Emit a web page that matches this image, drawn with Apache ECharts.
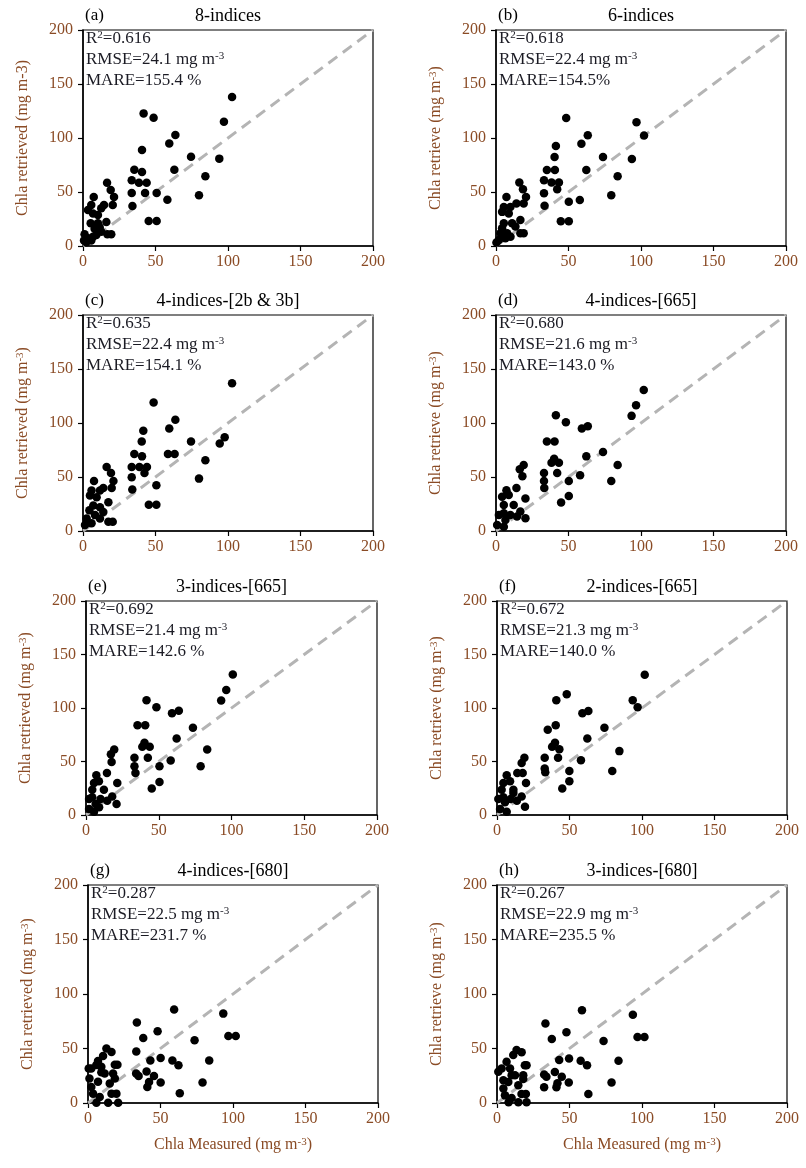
<!DOCTYPE html>
<html>
<head>
<meta charset="utf-8">
<script src="https://cdn.jsdelivr.net/npm/echarts@6/dist/echarts.min.js"></script>
<style>
    html, body { margin: 0; padding: 0; background: #fff; }
    #chart { width: 806px; height: 1168px; }
</style>
</head>
<body>
<div id="chart"></div>
<script>
// Measured vs retrieved Chla, one list of [measured, retrieved] per panel
const ptsA = [[102.8,138],[41.8,122.8],[48.7,118.8],[97.2,115],[63.7,102.8],[59.5,94.8],[40.7,88.9],[74.5,82.7],[94,80.9],[35.4,70.7],[63,70.7],[40.7,68.5],[84.4,64.5],[33.6,60.8],[38.6,58.6],[43.9,58.6],[16.6,58.6],[33.6,49],[42.8,49],[50.8,49],[19.1,51.8],[21.4,45.4],[80,46.9],[58.2,42.9],[7.4,45.4],[34.1,37],[20.5,38],[14.5,38],[45.3,23.1],[50.8,23.1],[5.7,38],[3.4,33.3],[6.9,30.2],[10.3,28.7],[12.6,34.9],[5.3,21],[10.3,21],[16.1,22.2],[8,16],[11.5,17.3],[19.5,10.8],[16.8,10.8],[1.1,10.8],[3.4,7.1],[6.9,8.6],[9.2,10.2],[2.3,3.4],[0.7,5],[5.7,5],[12.6,13.3]];
const ptsB = [[48.4,118.6],[96.9,114.6],[102.1,102.3],[63.3,102.6],[58.9,94.6],[41.3,92.5],[40.4,82.3],[73.8,82.3],[93.7,80.5],[35.1,70.3],[40.6,70.3],[62.3,70.3],[83.9,64.5],[33.1,60.8],[38.3,58.7],[43.4,58.7],[42.2,52.5],[33.1,48.8],[50.2,40.9],[57.8,42.7],[79.5,47],[33.5,37.2],[44.7,23],[50.2,23],[16.1,58.7],[18.6,52.5],[20.7,45.4],[7.2,45.4],[14.1,39.3],[19.1,39.3],[5.4,36.2],[4.2,31.6],[8.8,30],[9.9,36.2],[16.8,24],[5.4,21],[11.1,21],[4.2,16.4],[13.4,18],[19.1,11.7],[16.8,11.7],[3.1,11.7],[7.7,11.7],[2,5.6],[6.5,7.1],[0.3,3.2],[10,8.5]];
const ptsC = [[102.8,136.7],[48.7,118.9],[63.7,102.9],[59.5,94.9],[41.6,92.8],[40.5,82.9],[74.5,82.9],[97.7,86.9],[94.3,81.1],[35.4,71.3],[40.7,69.1],[58.6,71.3],[63.2,71.3],[84.4,65.4],[33.6,59.3],[38.9,59.3],[44.1,59.3],[42.4,53.7],[33.6,49.8],[50.6,42.4],[80,48.5],[34,38.4],[45.4,24.3],[50.6,24.3],[16.3,59.3],[19.3,53.7],[21,46.4],[7.6,46.4],[14,39.9],[19.8,39.9],[5.9,37.4],[4.8,32.8],[9.4,31.2],[11.7,37.4],[17.5,26.7],[7.1,23.6],[11.7,22.1],[4.4,19.1],[14,17.6],[17.5,8.6],[20.5,8.6],[2.5,11.6],[8.3,14.7],[1.4,5.5],[5.9,7.1],[11.7,11.6]];
const ptsD = [[101.9,130.6],[96.6,116.4],[93.5,106.6],[41.3,107.2],[48.2,100.7],[63.3,97],[59.2,94.9],[35.1,82.9],[40.4,82.9],[73.8,73.1],[62.3,69.1],[83.9,61.1],[40.1,67],[38.3,63.3],[43.4,63.3],[33.1,53.7],[42.2,53.7],[58,51.6],[33.1,46.4],[33.3,39.9],[50.2,46.4],[79.5,46.4],[50.2,32.3],[44.9,26.4],[19.1,61.1],[16.4,57.1],[18.2,50.7],[14.1,39.9],[7.2,37.8],[20.3,30.1],[4.2,31.8],[8.8,33.3],[5.4,24.1],[12.2,24.1],[16.8,18],[5.4,16.5],[9.9,14.9],[20.3,11.8],[2,14.9],[6.5,10.2],[0.8,5.5],[5.4,4],[14.5,13.4]];
const ptsE = [[100.9,131.2],[96.4,116.9],[92.9,106.9],[41.6,107.2],[48.4,100.6],[63.8,97.5],[59.1,95],[35.4,83.8],[40.7,83.8],[73.5,81.5],[62.3,71.6],[83.3,61.3],[40.2,67.5],[38.7,63.7],[43.8,63.7],[33.3,53.4],[42.5,53.4],[58.2,50.9],[33.3,45.6],[34,39.3],[50.5,45.6],[78.8,45.6],[50.5,30.9],[45.2,24.7],[19.4,61.3],[17.1,56.8],[17.6,49.6],[14.4,39.3],[7.1,37.1],[21.5,29.9],[5.5,30],[8.9,31.6],[4.3,23.6],[12.3,23.6],[18,17.3],[4.3,16.5],[10,14.9],[21,10.2],[2.1,14.9],[6.6,10.2],[2.1,5.5],[5.5,3],[14.6,13.4],[9,7.2]];
const ptsF = [[101.9,131.1],[93.6,107.2],[97,100.6],[48.1,112.8],[40.9,107.2],[63,97.2],[58.9,95],[40.5,83.8],[35,79.6],[74.1,81.5],[62.3,71.6],[84.4,59.7],[40,67.5],[38,63.7],[43,61.5],[32.9,53.4],[42.1,53.4],[57.9,51.1],[32.9,43.4],[33.3,40],[49.9,41.2],[79.5,41.2],[49.9,31.5],[45,24.7],[18.9,53.4],[17,48.7],[17.7,39.3],[14,39.3],[6.7,37.1],[20,29.9],[4.4,30],[9,31.6],[3.2,23.6],[11.3,23.6],[17,17.3],[4.4,16.5],[9.4,14.9],[19.3,7.8],[0.9,14.9],[5.5,11.9],[2.1,5.5],[6.7,3],[13.7,13.4],[11.3,20.5]];
const ptsG = [[59.4,85.7],[93.3,82],[33.7,73.8],[48,65.8],[38.1,59.6],[96.8,61.5],[101.9,61.5],[73.5,57.5],[33.3,47.2],[43,38.9],[50.1,41.3],[58.2,39.1],[62.4,34.6],[83.6,39.1],[33.2,27],[34.9,24.8],[40.4,28.8],[45.5,24.8],[42.1,19.3],[40.9,14.7],[50.1,18.7],[79,18.7],[63.3,8.9],[12.7,49.9],[16.2,46.8],[10.4,43.1],[6.9,38.5],[2.3,31.6],[0.5,31.6],[18.5,35.2],[20.3,35.2],[17.3,27],[11.5,27],[9.2,33.2],[5.8,34.8],[9.2,28.3],[1,22.4],[6.9,19.4],[18.5,22.4],[15,18],[2.3,14.7],[16.2,8.6],[19.6,8.6],[3.5,8.6],[8.1,5.5],[13.9,0.3],[20.8,0.3],[5.8,0.3]];
const ptsH = [[58.6,85],[93.7,81],[33.4,73],[47.9,65],[37.8,58.8],[96.9,60.6],[101.7,60.6],[73.5,56.9],[32.5,26.1],[34.1,24],[39.9,28.5],[44.7,24],[42.9,39.4],[49.7,40.9],[57.7,38.7],[62.1,34.7],[83.8,38.7],[41.7,18.1],[41,14.4],[49.5,18.7],[79,18.7],[63,8.2],[32.5,14.4],[13.5,48.6],[17,46.5],[11.2,44],[6.6,37.8],[3.2,31.7],[0.9,28.6],[19.2,34.7],[20.4,34.7],[18.1,25.5],[12.4,25.5],[9,31.7],[10.1,25.5],[4.4,20.8],[7.8,19.3],[18.1,22.1],[14.7,16.3],[4.4,13.2],[16.9,8.2],[19.9,8.2],[5.5,7],[10.1,4.5],[14.7,0.7],[20.4,0.7],[8,0.7]];

const panelTags = ['(a)', '(b)', '(c)', '(d)', '(e)', '(f)', '(g)', '(h)'];
const panelTitles = ['8-indices', '6-indices', '4-indices-[2b & 3b]', '4-indices-[665]',
    '3-indices-[665]', '2-indices-[665]', '4-indices-[680]', '3-indices-[680]'];
const statR2 = ['0.616', '0.618', '0.635', '0.680', '0.692', '0.672', '0.287', '0.267'];
const statRMSE = ['24.1', '22.4', '22.4', '21.6', '21.4', '21.3', '22.5', '22.9'];
const statMARE = ['155.4 %', '154.5%', '154.1 %', '143.0 %', '142.6 %', '140.0 %', '231.7 %', '235.5 %'];
const yNames = ['Chla retrieved (mg m-3)', 'Chla retrieve (mg m{sup|-3})', 'Chla retrieved (mg m{sup|-3})',
    'Chla retrieve (mg m{sup|-3})', 'Chla retrieved (mg m{sup|-3})', 'Chla retrieve (mg m{sup|-3})',
    'Chla retrieved (mg m{sup|-3})', 'Chla retrieve (mg m{sup|-3})'];
const xName = 'Chla Measured (mg m{sup|-3})';
const axisMin = 0, axisMax = 200, axisStep = 50;
const diagonal = [[0, 0], [200, 200]];

const allPoints = [ptsA, ptsB, ptsC, ptsD, ptsE, ptsF, ptsG, ptsH];

// plot boxes in pixels: [left, top, width, height]
const boxes = [
    [83, 30, 290, 216], [496, 30, 290, 216],
    [83, 315, 290, 216], [496, 315, 290, 216],
    [86, 601, 291, 214], [497, 601, 290, 214],
    [88, 885, 290, 218], [497, 885, 290, 218]
];

const serif = '"Liberation Serif", "DejaVu Serif", serif';
const labelColor = '#8a4b25';
const textColor = '#1b1b24';
const supStyle = { fontSize: 11, fontFamily: serif, verticalAlign: 'top', lineHeight: 11, padding: [0, 0, 6, 0] };

const grids = [], xAxes = [], yAxes = [], series = [], graphics = [];

boxes.forEach((b, i) => {
    grids.push({
        left: b[0], top: b[1], width: b[2], height: b[3],
        show: true, borderColor: '#000', borderWidth: 1.2,
        containLabel: false
    });

    const axisCommon = {
        gridIndex: i,
        type: 'value',
        min: axisMin, max: axisMax, interval: axisStep,
        splitLine: { show: false },
        axisLine: { show: true, onZero: false, lineStyle: { color: '#000', width: 1.5 } },
        axisTick: { show: true, inside: false, length: 5, lineStyle: { color: '#000', width: 1.2 } },
        axisLabel: { fontFamily: serif, fontSize: 16, color: labelColor }
    };

    xAxes.push(Object.assign({}, axisCommon, {
        axisLabel: Object.assign({}, axisCommon.axisLabel, { margin: 8 }),
        name: i >= 6 ? xName : '',
        nameLocation: 'middle',
        nameGap: 34,
        nameTextStyle: { fontFamily: serif, fontSize: 16, color: labelColor, rich: { sup: supStyle } }
    }));

    yAxes.push(Object.assign({}, axisCommon, {
        axisLabel: Object.assign({}, axisCommon.axisLabel, { margin: 10 }),
        name: yNames[i],
        nameLocation: 'middle',
        nameGap: 52,
        nameTextStyle: { fontFamily: serif, fontSize: 16, color: labelColor, rich: { sup: supStyle } }
    }));

    // 1:1 line
    series.push({
        type: 'line',
        xAxisIndex: i, yAxisIndex: i,
        data: diagonal,
        symbol: 'none',
        silent: true,
        z: 1,
        lineStyle: { color: '#b4b4b4', width: 3, type: [11, 7] }
    });

    series.push({
        type: 'scatter',
        xAxisIndex: i, yAxisIndex: i,
        data: allPoints[i],
        symbolSize: 8.5,
        z: 3,
        itemStyle: { color: '#000', opacity: 1 }
    });

    // panel tag and title above the box
    graphics.push({
        type: 'text', x: b[0] + 2, y: b[1] - 23,
        style: { text: panelTags[i], font: '17px ' + serif, fill: '#000' }
    });
    graphics.push({
        type: 'text', x: b[0] + b[2] / 2, y: b[1] - 23,
        style: { text: panelTitles[i], font: '18px ' + serif, fill: '#000', textAlign: 'center' }
    });

    // statistics block in the upper-left corner
    const stats = [
        'R{sup|2}=' + statR2[i],
        'RMSE=' + statRMSE[i] + ' mg m{sup|-3}',
        'MARE=' + statMARE[i]
    ];
    stats.forEach((s, k) => {
        graphics.push({
            type: 'text', x: b[0] + 3, y: b[1] + k * 21,
            style: {
                text: s, font: '17px ' + serif, fill: textColor,
                rich: { sup: { fontSize: 11, fontFamily: serif, fill: textColor, verticalAlign: 'top', lineHeight: 11, padding: [0, 0, 6, 0] } }
            }
        });
    });
});

const chart = echarts.init(document.getElementById('chart'));
chart.setOption({
    backgroundColor: '#fff',
    animation: false,
    grid: grids,
    xAxis: xAxes,
    yAxis: yAxes,
    series: series,
    graphic: graphics
});
</script>
</body>
</html>
